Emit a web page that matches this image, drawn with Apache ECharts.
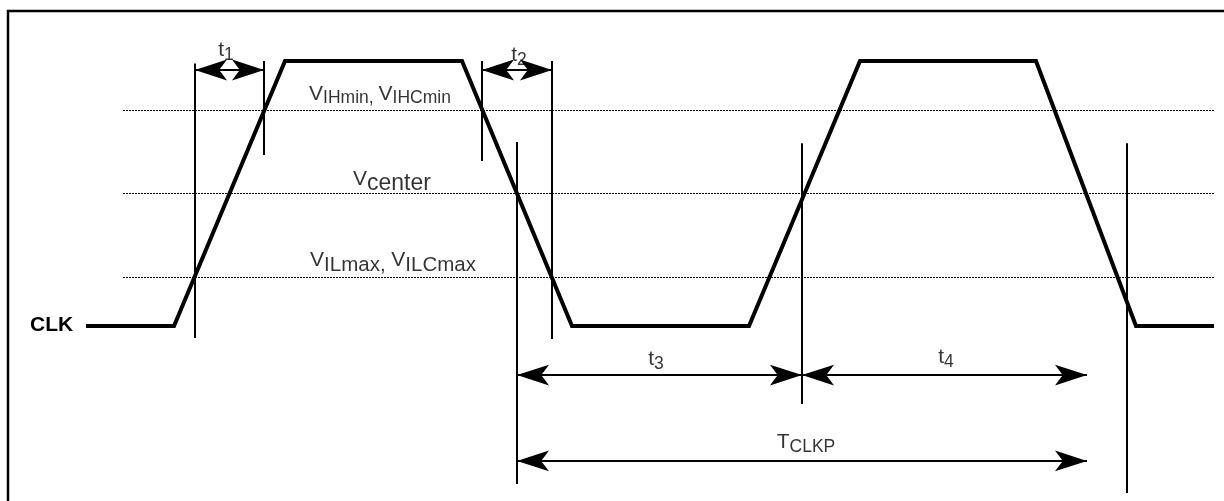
<!DOCTYPE html>
<html>
<head>
<meta charset="utf-8">
<title>CLK timing</title>
<script src="https://cdn.jsdelivr.net/npm/echarts@6/dist/echarts.min.js"></script>
<style>
    html, body { margin: 0; padding: 0; background: #fff; }
    .chart { width: 1224px; height: 501px; }
</style>
</head>
<body>
<div class="chart"></div>
<script>
// waveform vertices (time, level 0 = low / 1 = high)
const clkTime = [86, 174, 285, 462, 572, 749, 860, 1036, 1136, 1214]
const clkLevel = [0, 0, 1, 1, 0, 0, 1, 1, 0, 0]

// threshold levels: VIH, Vcenter, VIL
const thresholdLevel = [0.815, 0.5, 0.185]
const thresholdSpan = [123, 1215]

// vertical reference lines: time, top level, bottom level
const markerTime = [195, 264, 482, 552, 517, 802, 1127]
const markerTop = [0.99, 1.0, 1.0, 1.0, 0.694, 0.69, 0.69]
const markerBottom = [-0.045, 0.645, 0.623, -0.049, -0.596, -0.294, -0.63]

// dimension arrows: from, to, level
const arrowFrom = [195, 482, 517, 802, 517]
const arrowTo = [264, 552, 802, 1087, 1087]
const arrowLevel = [0.966, 0.966, -0.185, -0.185, -0.509]

// text labels
const labelText = ['t{s|1}', 't{s|2}', 'V{s|IHmin}{s|, }V{s|IHCmin}', 'V{w|center}',
    'V{m|ILmax}{m|, }V{m|ILCmax}', 't{s|3}', 't{s|4}', 'T{s|CLKP}']
const labelTime = [226, 519, 380, 392, 393, 656, 946, 806]
const labelLevel = [1.04, 1.02, 0.875, 0.555, 0.247, -0.125, -0.118, -0.44];

(function () {
    let chart = echarts.init(document.querySelector('.chart'))

    let waveData = clkTime.map((t, i) => [t, clkLevel[i]])
    let thresholdData = thresholdLevel.map(v => ({ coords: [[thresholdSpan[0], v], [thresholdSpan[1], v]] }))
    let markerData = markerTime.map((t, i) => ({ coords: [[t, markerTop[i]], [t, markerBottom[i]]] }))
    let arrowData = arrowFrom.map((t, i) => ({ coords: [[t, arrowLevel[i]], [arrowTo[i], arrowLevel[i]]] }))
    let labelData = labelText.map((s, i) => ({ value: [labelTime[i], labelLevel[i]], name: s }))

    let font = '"Liberation Sans", Arial'
    let sub = (size) => ({ fontSize: size, fontFamily: font, color: '#000', padding: [9, 0, 0, 0] })
    // arrow head in a 40x40 box, tip in the middle so it lands on the end point
    let head = 'path://M0,0 M40,40 M20,20 L26.5,40 Q21,36 20,35 Q19,36 13.5,40 Z'

    let option = {
        animation: false,
        grid: { left: 0, right: 0, top: 0, bottom: 0 },
        xAxis: { type: 'value', min: 0, max: 1224, show: false },
        yAxis: { type: 'value', min: -0.66, max: 1.23, show: false },
        graphic: [
            // outer frame
            {
                type: 'rect',
                shape: { x: 8, y: 11, width: 1400, height: 700 },
                style: { fill: 'none', stroke: '#000', lineWidth: 2.5 },
                silent: true
            },
            {
                type: 'text',
                left: 30,
                top: 315,
                style: { text: 'CLK', font: 'bold 21px "Liberation Sans", Arial', fill: '#000' }
            }
        ],
        series: [
            {
                type: 'lines',
                coordinateSystem: 'cartesian2d',
                data: thresholdData,
                lineStyle: { color: '#000', width: 1.2, type: [2, 1], opacity: 1 },
                silent: true
            },
            {
                type: 'lines',
                coordinateSystem: 'cartesian2d',
                data: markerData,
                lineStyle: { color: '#000', width: 2, opacity: 1 },
                silent: true
            },
            {
                type: 'lines',
                coordinateSystem: 'cartesian2d',
                data: arrowData,
                symbol: [head, head],
                symbolSize: 64,
                itemStyle: { color: '#000' },
                lineStyle: { color: '#000', width: 2.2, opacity: 1 },
                silent: true
            },
            {
                type: 'line',
                data: waveData,
                showSymbol: false,
                lineStyle: { color: '#000', width: 4, join: 'miter' },
                silent: true
            },
            {
                type: 'scatter',
                data: labelData,
                symbolSize: 0,
                silent: true,
                label: {
                    show: true,
                    position: 'inside',
                    formatter: p => p.name,
                    fontFamily: font,
                    fontSize: 21,
                    color: '#000',
                    rich: {
                        s: sub(17.5),
                        m: sub(20.5),
                        w: sub(23)
                    }
                }
            }
        ]
    }
    chart.setOption(option)
    window.addEventListener('resize', function () {
        chart.resize()
    })
})()
</script>
</body>
</html>
